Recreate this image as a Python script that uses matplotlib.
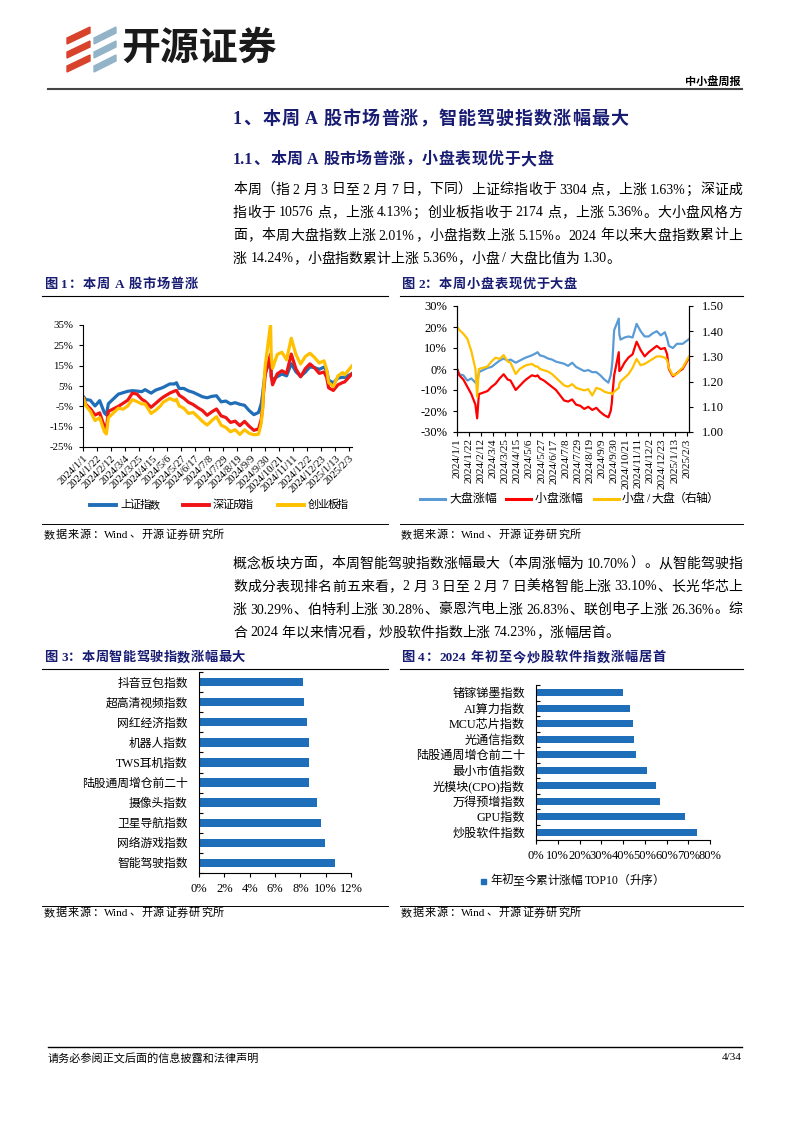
import re
import matplotlib
matplotlib.use('Agg')
import matplotlib.pyplot as plt
from matplotlib.lines import Line2D
from matplotlib.patches import Polygon, Rectangle
import pandas as pd
import numpy as np

W, H = 793, 1122
plt.rcParams['font.family'] = ['Liberation Serif', 'Noto Sans CJK SC']
plt.rcParams['axes.unicode_minus'] = False

# ---------------- data ----------------
dates = ['2024-01-02', '2024-01-05', '2024-01-12', '2024-01-19', '2024-01-26', '2024-02-02', '2024-02-05',
         '2024-02-08', '2024-02-23', '2024-03-01', '2024-03-08', '2024-03-15', '2024-03-22', '2024-03-29',
         '2024-04-03', '2024-04-12', '2024-04-19', '2024-04-26', '2024-04-30', '2024-05-10', '2024-05-17',
         '2024-05-20', '2024-05-24', '2024-05-31', '2024-06-07', '2024-06-14', '2024-06-21', '2024-06-28',
         '2024-07-05', '2024-07-12', '2024-07-19', '2024-07-26', '2024-08-02', '2024-08-09', '2024-08-16',
         '2024-08-23', '2024-08-30', '2024-09-06', '2024-09-13', '2024-09-20', '2024-09-24', '2024-09-26',
         '2024-09-27', '2024-09-30', '2024-10-08', '2024-10-09', '2024-10-11', '2024-10-18', '2024-10-25',
         '2024-11-01', '2024-11-08', '2024-11-15', '2024-11-22', '2024-11-29', '2024-12-06', '2024-12-13',
         '2024-12-20', '2024-12-27', '2024-12-31', '2025-01-03', '2025-01-10', '2025-01-17', '2025-01-24',
         '2025-01-27', '2025-02-07']

sh_index = [-0.4, -1.6, -2.0, -4.8, -2.2, -8.2, -9.2, -3.7, 1.0, 1.7, 2.4, 2.7, 2.5, 2.2, 3.2, 1.5, 3.0, 3.8,
            4.3, 6.0, 6.0, 6.6, 3.8, 3.8, 2.6, 1.9, 0.8, -0.3, -0.8, -0.1, 0.2, -2.8, -2.4, -3.8, -3.2, -4.0,
            -4.5, -7.1, -9.1, -8.0, -3.8, 0.8, 3.8, 12.1, 17.3, 9.5, 8.1, 9.6, 10.9, 10.0, 16.0, 12.0, 9.8,
            11.8, 14.4, 14.0, 13.2, 14.3, 12.7, 7.9, 6.5, 8.9, 9.3, 9.2, 11.1]
sz_index = [-1.0, -4.0, -6.1, -9.3, -8.2, -15.0, -16.0, -7.5, -5.0, -3.5, -2.0, 1.5, 1.0, -1.5, -2.5, -5.5,
            -3.5, -1.5, -0.5, 1.5, 2.5, 2.8, 0.5, -1.0, -3.0, -4.1, -5.7, -7.1, -9.4, -7.7, -6.3, -9.7, -10.5,
            -12.9, -12.3, -14.5, -12.4, -14.8, -16.8, -16.1, -11.4, -6.0, -0.1, 10.5, 20.7, 10.0, 5.6, 11.0,
            12.5, 11.2, 20.7, 13.4, 9.5, 13.5, 15.9, 13.9, 11.2, 11.9, 9.3, 4.1, 2.8, 5.6, 6.7, 7.0, 11.0]
cy_index = [-1.2, -4.6, -7.5, -12.0, -10.6, -17.5, -18.6, -10.6, -5.9, -6.4, -4.8, -1.7, -2.7, -3.8, -3.8,
            -8.5, -6.9, -4.8, -3.0, -1.1, -2.2, -1.5, -4.8, -5.9, -8.5, -8.0, -10.1, -12.4, -14.2, -12.0,
            -10.1, -14.3, -15.4, -17.5, -16.5, -18.8, -16.5, -18.3, -19.0, -18.7, -13.3, -6.9, 0.5, 15.0,
            35.5, 19.5, 13.7, 20.5, 21.6, 17.9, 28.5, 20.5, 15.8, 19.5, 21.1, 19.0, 16.3, 17.4, 13.2, 6.7,
            4.7, 10.0, 11.6, 10.5, 14.9]

big_cap = [-0.5, -2.5, -3.0, -5.5, -4.5, -6.5, -7.0, -1.5, 0.5, 1.0, 2.5, 4.0, 5.0, 4.0, 4.5, 3.0, 4.0, 5.0,
           5.5, 6.5, 7.5, 8.0, 6.5, 6.0, 5.0, 4.5, 3.5, 3.0, 2.5, 1.5, 3.0, 1.0, 0.0, -1.0, -0.5, -1.5, -1.5,
           -3.0, -5.0, -6.5, -3.0, 1.0, 4.0, 18.5, 24.0, 16.5, 14.0, 15.0, 15.5, 15.0, 21.5, 18.0, 15.5,
           15.5, 17.0, 18.0, 16.0, 17.5, 14.5, 11.0, 10.0, 12.0, 12.0, 12.0, 14.24]
small_cap = [-0.5, -3.0, -5.0, -8.5, -12.0, -17.0, -23.5, -12.0, -10.5, -8.5, -7.0, -4.5, -2.5, -5.0, -5.5,
             -10.0, -8.0, -6.0, -5.0, -3.0, -3.5, -3.0, -4.5, -5.5, -7.0, -8.5, -10.0, -12.5, -15.0, -15.5,
             -14.5, -17.0, -17.5, -19.0, -18.0, -19.5, -18.5, -20.5, -22.0, -23.0, -20.0, -16.0, -12.0, -3.0,
             8.0, -1.0, -0.5, 3.0, 5.5, 7.0, 13.0, 9.0, 6.0, 8.0, 9.5, 11.0, 9.5, 10.0, 7.0, 0.0, -3.5, -2.0,
             -0.5, 0.0, 5.36]
ratio = [1.415, 1.405, 1.39, 1.37, 1.32, 1.25, 1.14, 1.25, 1.26, 1.28, 1.295, 1.29, 1.305, 1.28, 1.275, 1.23,
         1.25, 1.26, 1.265, 1.27, 1.26, 1.26, 1.25, 1.245, 1.24, 1.23, 1.215, 1.20, 1.185, 1.18, 1.19, 1.175,
         1.17, 1.165, 1.17, 1.145, 1.175, 1.17, 1.16, 1.155, 1.155, 1.15, 1.15, 1.16, 1.175, 1.19, 1.20,
         1.215, 1.23, 1.255, 1.29, 1.265, 1.27, 1.28, 1.29, 1.30, 1.30, 1.295, 1.285, 1.255, 1.225, 1.23,
         1.25, 1.255, 1.30]

tick_dates = ['2024-01-01', '2024-01-22', '2024-02-12', '2024-03-04', '2024-03-25', '2024-04-15', '2024-05-06',
              '2024-05-27', '2024-06-17', '2024-07-08', '2024-07-29', '2024-08-19', '2024-09-09', '2024-09-30',
              '2024-10-21', '2024-11-11', '2024-12-02', '2024-12-23', '2025-01-13', '2025-02-03']
tick_labels = ['2024/1/1', '2024/1/22', '2024/2/12', '2024/3/4', '2024/3/25', '2024/4/15', '2024/5/6',
               '2024/5/27', '2024/6/17', '2024/7/8', '2024/7/29', '2024/8/19', '2024/9/9', '2024/9/30',
               '2024/10/21', '2024/11/11', '2024/12/2', '2024/12/23', '2025/1/13', '2025/2/3']
fig1_yticks = [-25, -15, -5, 5, 15, 25, 35]
fig1_ylabels = ['-25%', '-15%', '-5%', '5%', '15%', '25%', '35%']
fig2_yticks = [-30, -20, -10, 0, 10, 20, 30]
fig2_ylabels = ['-30%', '-20%', '-10%', '0%', '10%', '20%', '30%']
fig2_rticks = [1.0, 1.1, 1.2, 1.3, 1.4, 1.5]
fig2_rlabels = ['1.00', '1.10', '1.20', '1.30', '1.40', '1.50']

fig3_cats = ['智能驾驶指数', '网络游戏指数', '卫星导航指数', '摄像头指数', '陆股通周增仓前二十',
             'TWS耳机指数', '机器人指数', '网红经济指数', '超高清视频指数', '抖音豆包指数']
fig3_vals = [10.70, 9.92, 9.60, 9.29, 8.71, 8.65, 8.65, 8.55, 8.31, 8.23]
fig3_xticks = [0, 2, 4, 6, 8, 10, 12]
fig3_xlabels = ['0%', '2%', '4%', '6%', '8%', '10%', '12%']

fig4_cats = ['炒股软件指数', 'GPU指数', '万得预增指数', '光模块(CPO)指数', '最小市值指数',
             '陆股通周增仓前二十', '光通信指数', 'MCU芯片指数', 'AI算力指数', '锗镓锑墨指数']
fig4_vals = [74.23, 68.3, 57.0, 55.3, 51.2, 46.0, 45.0, 44.4, 43.3, 39.9]
fig4_xticks = [0, 10, 20, 30, 40, 50, 60, 70, 80]
fig4_xlabels = ['0%', '10%', '20%', '30%', '40%', '50%', '60%', '70%', '80%']

para1 = ['本周（指 2 月 3 日至 2 月 7 日，下同）上证综指收于 3304 点，上涨 1.63%；深证成',
         '指收于 10576 点，上涨 4.13%；创业板指收于 2174 点，上涨 5.36%。大小盘风格方',
         '面，本周大盘指数上涨 2.01%，小盘指数上涨 5.15%。2024 年以来大盘指数累计上',
         '涨 14.24%，小盘指数累计上涨 5.36%，小盘/大盘比值为 1.30。']
para2 = ['概念板块方面，本周智能驾驶指数涨幅最大（本周涨幅为 10.70%）。从智能驾驶指',
         '数成分表现排名前五来看，2 月 3 日至 2 月 7 日美格智能上涨 33.10%、长光华芯上',
         '涨 30.29%、伯特利上涨 30.28%、豪恩汽电上涨 26.83%、联创电子上涨 26.36%。综',
         '合 2024 年以来情况看，炒股软件指数上涨 74.23%，涨幅居首。']

# ---------------- figure helpers ----------------
fig = plt.figure(figsize=(W / 100, H / 100), dpi=100)
fig.patch.set_facecolor('white')
renderer = fig.canvas.get_renderer()
NAVY = '#181C72'


def fx(x):
    return x / W


def fy(y):
    return 1 - y / H


def add_ax(l, t, r, b):
    return fig.add_axes([fx(l), fy(b), (r - l) / W, (b - t) / H])


def hline(x0, x1, y, lw=0.8, color='black'):
    fig.add_artist(Line2D([fx(x0), fx(x1)], [fy(y), fy(y)], lw=lw, color=color,
                          transform=fig.transFigure))


TOK = re.compile(r'[A-Za-z0-9.%/()]+|\S')
PUNCT = set('，。；：、（）！？“”')


def put_line(s, x0, y, size, x1=None, color='black', weight='normal', family=None):
    toks = TOK.findall(s)
    kw = dict(fontsize=size, color=color, fontweight=weight, ha='left', va='center')
    if family:
        kw['family'] = family
    objs = [fig.text(fx(x0), fy(y), t, **kw) for t in toks]
    widths = [o.get_window_extent(renderer).width for o in objs]
    em = size * 100 / 72
    base = []
    for a, b in zip(toks[:-1], toks[1:]):
        if a in PUNCT or b in PUNCT:
            base.append(0.0)
        elif a[0].isascii() != b[0].isascii():
            base.append(0.25 * em)
        else:
            base.append(0.0)
    total = sum(widths) + sum(base)
    extra = 0.0
    if x1 is not None and len(toks) > 1:
        extra = (x1 - x0 - total) / (len(toks) - 1)
    x = x0
    for i, o in enumerate(objs):
        o.set_x(fx(x))
        x += widths[i]
        if i < len(base):
            x += base[i] + extra


# ---------------- header ----------------
red_c, blue_c = '#D8432C', '#93B3C8'
for yy in (27, 41, 55):
    fig.add_artist(Polygon([(fx(67), fy(yy + 11)), (fx(90), fy(yy)), (fx(90), fy(yy + 6)),
                            (fx(67), fy(yy + 17))], closed=True, color=red_c, transform=fig.transFigure))
for yy in (27, 41, 55):
    fig.add_artist(Polygon([(fx(94), fy(yy + 11)), (fx(116), fy(yy)), (fx(116), fy(yy + 6)),
                            (fx(94), fy(yy + 17))], closed=True, color=blue_c, transform=fig.transFigure))
fig.text(fx(121), fy(48), '开源证券', fontsize=28, fontweight='bold', color='#1a1a1a',
         family='Noto Sans CJK SC', ha='left', va='center')
fig.text(fx(741), fy(81), '中小盘周报', fontsize=8, fontweight='bold', color='black',
         family='Noto Sans CJK SC', ha='right', va='center')
hline(48, 742, 89, lw=1.5, color='#444444')

# headings and body
put_line('1、 本周A股市场普涨，智能驾驶指数涨幅最大', 233, 119, 13, x1=628, color=NAVY, weight='bold')
put_line('1.1、 本周A股市场普涨，小盘表现优于大盘', 233, 160, 11.5, x1=553, color=NAVY, weight='bold')
for i, ln in enumerate(para1):
    put_line(ln, 233, 190 + 23 * i, 10, x1=(742 if i < len(para1) - 1 else None))
for i, ln in enumerate(para2):
    put_line(ln, 233, 564 + 23 * i, 10, x1=(742 if i < len(para2) - 1 else None))

# figure titles / rules / sources
put_line('图1：本周A股市场普涨', 44, 285, 9.5, x1=198, color=NAVY, weight='bold')
put_line('图2：本周小盘表现优于大盘', 401, 285, 9.5, x1=577, color=NAVY, weight='bold')
hline(42, 388, 296)
hline(400, 743, 296)
hline(42, 388, 524, lw=0.7)
hline(400, 743, 524, lw=0.7)
put_line('数据来源：Wind、开源证券研究所', 44, 535, 8, x1=224)
put_line('数据来源：Wind、开源证券研究所', 401, 535, 8, x1=581)

put_line('图3：本周智能驾驶指数涨幅最大', 44, 658, 9.5, x1=245, color=NAVY, weight='bold')
put_line('图4：2024年初至今炒股软件指数涨幅居首', 401, 658, 9.5, x1=666, color=NAVY, weight='bold')
hline(42, 388, 669)
hline(400, 743, 669)
hline(42, 388, 906, lw=0.7)
hline(400, 743, 906, lw=0.7)
put_line('数据来源：Wind、开源证券研究所', 44, 913, 8, x1=224)
put_line('数据来源：Wind、开源证券研究所', 401, 913, 8, x1=581)

# footer
hline(48, 742, 1047, lw=1.0, color='black')
fig.text(fx(48), fy(1058), '请务必参阅正文后面的信息披露和法律声明', fontsize=8, ha='left', va='center')
fig.text(fx(742), fy(1058), '4/34', fontsize=8, ha='right', va='center')

d = pd.to_datetime(dates)
td = pd.to_datetime(tick_dates)
x_lo, x_hi = pd.Timestamp('2024-01-01'), pd.Timestamp('2025-02-07')

# ---------------- Figure 1 ----------------
ax1 = add_ax(83, 325, 352, 447)
ax1.plot(d, sh_index, color='#1F6EB7', lw=2.3)
ax1.plot(d, sz_index, color='#F01414', lw=2.3)
ax1.plot(d, cy_index, color='#FFC000', lw=2.3)
ax1.set_xlim(x_lo, x_hi)
ax1.set_ylim(-25, 35)
ax1.set_yticks(fig1_yticks)
ax1.set_yticklabels(fig1_ylabels)
ax1.set_xticks(td)
ax1.set_xticklabels(tick_labels, rotation=45, ha='right', rotation_mode='anchor')
for s in ('top', 'right'):
    ax1.spines[s].set_visible(False)
for s in ('left', 'bottom'):
    ax1.spines[s].set_linewidth(0.8)
ax1.tick_params(axis='y', direction='out', length=3, width=0.8, pad=4, labelsize=7.8)
ax1.tick_params(axis='x', direction='out', length=3, width=0.8, pad=2, labelsize=7.6)

legend1 = [('上证指数', '#1F6EB7', 90, 116, 120, 160),
           ('深证成指', '#F01414', 183, 209, 213, 253),
           ('创业板指', '#FFC000', 278, 304, 308, 348)]
for lab, col, a, b, t0, t1 in legend1:
    fig.add_artist(Line2D([fx(a), fx(b)], [fy(505), fy(505)], lw=2.8, color=col, transform=fig.transFigure))
    put_line(lab, t0, 505, 8, x1=t1)

# ---------------- Figure 2 ----------------
ax2 = add_ax(457, 306, 689, 432)
ax2.plot(d, big_cap, color='#5B9BD5', lw=1.6)
ax2.plot(d, small_cap, color='#FF0000', lw=1.6)
ax2.set_xlim(x_lo, x_hi)
ax2.set_ylim(-30, 30)
ax2.set_yticks(fig2_yticks)
ax2.set_yticklabels(fig2_ylabels)
ax2.set_xticks(td)
ax2.set_xticklabels(tick_labels, rotation=90, ha='center', va='top')
ax2r = ax2.twinx()
ax2r.plot(d, ratio, color='#FFC000', lw=1.6)
ax2r.set_ylim(1.0, 1.5)
ax2r.set_yticks(fig2_rticks)
ax2r.set_yticklabels(fig2_rlabels)
for a in (ax2, ax2r):
    a.spines['top'].set_visible(False)
    for s in ('left', 'right', 'bottom'):
        a.spines[s].set_linewidth(0.8)
ax2.tick_params(axis='y', direction='out', length=3, width=0.8, pad=4, labelsize=9)
ax2.tick_params(axis='x', direction='out', length=3, width=0.8, pad=1.5, labelsize=8)
ax2r.tick_params(axis='y', direction='out', length=3, width=0.8, pad=6, labelsize=9)

legend2 = [('大盘涨幅', '#5B9BD5', 420, 445, 449, 496),
           ('小盘涨幅', '#FF0000', 506, 531, 535, 582),
           ('小盘/大盘（右轴）', '#FFC000', 594, 619, 622, 718)]
for lab, col, a, b, t0, t1 in legend2:
    fig.add_artist(Line2D([fx(a), fx(b)], [fy(499), fy(499)], lw=2.2, color=col, transform=fig.transFigure))
    put_line(lab, t0, 499, 8.5, x1=t1)

# ---------------- Figure 3 ----------------
BAR = '#1F6EBA'
ax3 = add_ax(199, 672, 351, 873)
y3 = np.arange(len(fig3_cats))
ax3.barh(y3, fig3_vals, height=0.42, color=BAR)
ax3.set_ylim(-0.5, len(fig3_cats) - 0.5)
ax3.set_xlim(0, 12)
ax3.set_yticks(y3)
ax3.set_yticklabels(fig3_cats)
ax3.set_yticks(np.arange(-0.5, len(fig3_cats), 1), minor=True)
ax3.set_xticks(fig3_xticks)
ax3.set_xticklabels(fig3_xlabels)
for s in ('top', 'right'):
    ax3.spines[s].set_visible(False)
for s in ('left', 'bottom'):
    ax3.spines[s].set_linewidth(0.8)
ax3.tick_params(axis='y', which='major', length=0, pad=8, labelsize=8.5)
ax3.tick_params(axis='y', which='minor', direction='in', length=3, width=0.8)
ax3.tick_params(axis='x', direction='out', length=3, width=0.8, pad=4, labelsize=9)

# ---------------- Figure 4 ----------------
ax4 = add_ax(536, 685, 710, 840)
y4 = np.arange(len(fig4_cats))
ax4.barh(y4, fig4_vals, height=0.42, color=BAR)
ax4.set_ylim(-0.5, len(fig4_cats) - 0.5)
ax4.set_xlim(0, 80)
ax4.set_yticks(y4)
ax4.set_yticklabels(fig4_cats)
ax4.set_yticks(np.arange(-0.5, len(fig4_cats), 1), minor=True)
ax4.set_xticks(fig4_xticks)
ax4.set_xticklabels(fig4_xlabels)
for s in ('top', 'right'):
    ax4.spines[s].set_visible(False)
for s in ('left', 'bottom'):
    ax4.spines[s].set_linewidth(0.8)
ax4.tick_params(axis='y', which='major', length=0, pad=8, labelsize=8.7)
ax4.tick_params(axis='y', which='minor', direction='in', length=3, width=0.8)
ax4.tick_params(axis='x', direction='out', length=3, width=0.8, pad=4, labelsize=9)

fig.add_artist(Rectangle((fx(481), fy(884)), 5 / W, 5 / H, color=BAR, transform=fig.transFigure))
put_line('年初至今累计涨幅TOP10（升序）', 490, 881, 8.5, x1=664)

fig.savefig('out.png', dpi=100, facecolor='white')
